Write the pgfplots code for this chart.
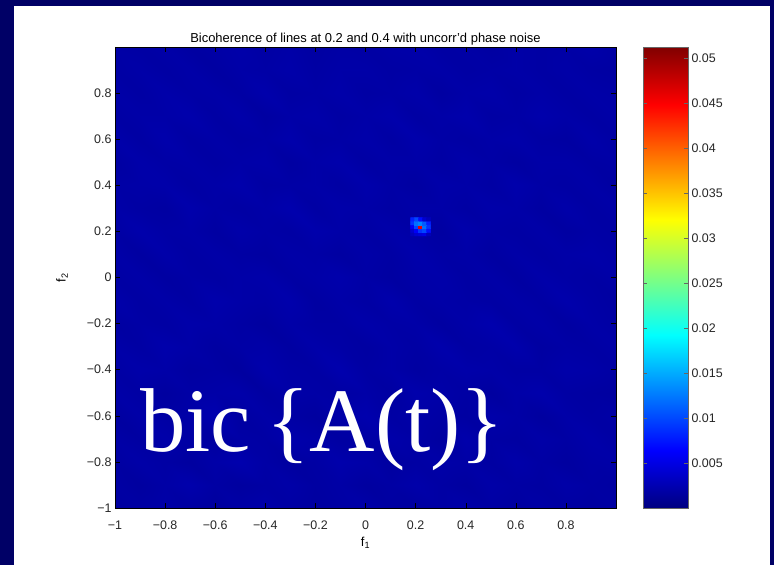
\documentclass[border=0pt]{standalone}
\usepackage{fontspec}
\setmainfont{Liberation Sans}
\newfontfamily\slideserif{Liberation Serif}
\usepackage{pgfplots}
\pgfplotsset{compat=1.18}
\definecolor{slidenavy}{RGB}{0,0,102}

\begin{document}
\begin{tikzpicture}[x=1bp,y=1bp]
% slide background and white panel
\fill[slidenavy] (0,0) rectangle (774,565);
\fill[white] (14,0) rectangle (770,559);

\begin{axis}[
    at={(115bp,57bp)}, anchor=south west,
    scale only axis, width=501bp, height=461bp,
    xmin=-1, xmax=1, ymin=-1, ymax=1,
    enlargelimits=false,
    axis on top,
    colormap/jet,
    point meta min=0, point meta max=0.0513,
    xtick={-1,-0.8,-0.6,-0.4,-0.2,0,0.2,0.4,0.6,0.8},
    xticklabels={−1,−0.8,−0.6,−0.4,−0.2,0,0.2,0.4,0.6,0.8},
    ytick={-1,-0.8,-0.6,-0.4,-0.2,0,0.2,0.4,0.6,0.8},
    yticklabels={−1,−0.8,−0.6,−0.4,−0.2,0,0.2,0.4,0.6,0.8},
    tick align=inside, major tick length=5bp,
    tick style={black, thin},
    axis line style={black, thin},
    tick label style={font=\fontsize{12.5}{14}\selectfont, text=black!85},
    xticklabel style={yshift=-9bp},
    title={Bicoherence of lines at 0.2 and 0.4 with uncorr'd phase noise},
    title style={at={(0.5,1)}, anchor=base, yshift=-1bp, font=\fontsize{13}{15}\selectfont},
    xlabel={f\textsubscript{1}},
    ylabel={f\textsubscript{2}},
    xlabel style={at={(0.5,-0.0759)}, anchor=center, font=\fontsize{13}{15}\selectfont},
    ylabel style={at={(-0.1058,0.5)}, anchor=center, font=\fontsize{13}{15}\selectfont},
    colorbar,
    colorbar/width=45bp,
    colorbar style={
        scale only axis,
        at={(parent axis.north east)}, anchor=north west, xshift=18.5bp,
        xmin=0, xmax=1, xtick=\empty,
        scaled y ticks=false,
        ytick={0.005,0.01,0.015,0.02,0.025,0.03,0.035,0.04,0.045,0.05},
        yticklabels={0.005,0.01,0.015,0.02,0.025,0.03,0.035,0.04,0.045,0.05},
        yticklabel pos=right, ytick pos=both,
        tick align=inside, major tick length=4bp,
        tick style={black!60, thin},
        axis line style={black!60, thin},
        yticklabel style={font=\fontsize{12.5}{14}\selectfont, text=black!85},
    },
]

% background bicoherence (low level noise), grid nodes every 0.1
\addplot[surf, shader=interp, mesh/cols=21, point meta=explicit] coordinates {
(-1,-1)[0.0016] (-0.9,-1)[0.0018] (-0.8,-1)[0.0020] (-0.7,-1)[0.0017] (-0.6,-1)[0.0015] (-0.5,-1)[0.0019] (-0.4,-1)[0.0021] (-0.3,-1)[0.0018] (-0.2,-1)[0.0016] (-0.1,-1)[0.0018] (0,-1)[0.0020]
(0.1,-1)[0.0017] (0.2,-1)[0.0016] (0.3,-1)[0.0018] (0.4,-1)[0.0020] (0.5,-1)[0.0018] (0.6,-1)[0.0016] (0.7,-1)[0.0019] (0.8,-1)[0.0017] (0.9,-1)[0.0016] (1,-1)[0.0018]
(-1,-0.9)[0.0018] (-0.9,-0.9)[0.0016] (-0.8,-0.9)[0.0019] (-0.7,-0.9)[0.0022] (-0.6,-0.9)[0.0018] (-0.5,-0.9)[0.0016] (-0.4,-0.9)[0.0018] (-0.3,-0.9)[0.0020] (-0.2,-0.9)[0.0017] (-0.1,-0.9)[0.0019] (0,-0.9)[0.0016]
(0.1,-0.9)[0.0018] (0.2,-0.9)[0.0021] (0.3,-0.9)[0.0018] (0.4,-0.9)[0.0016] (0.5,-0.9)[0.0020] (0.6,-0.9)[0.0018] (0.7,-0.9)[0.0017] (0.8,-0.9)[0.0020] (0.9,-0.9)[0.0018] (1,-0.9)[0.0017]
(-1,-0.8)[0.0017] (-0.9,-0.8)[0.0020] (-0.8,-0.8)[0.0018] (-0.7,-0.8)[0.0016] (-0.6,-0.8)[0.0020] (-0.5,-0.8)[0.0023] (-0.4,-0.8)[0.0019] (-0.3,-0.8)[0.0016] (-0.2,-0.8)[0.0018] (-0.1,-0.8)[0.0022] (0,-0.8)[0.0020]
(0.1,-0.8)[0.0016] (0.2,-0.8)[0.0018] (0.3,-0.8)[0.0020] (0.4,-0.8)[0.0019] (0.5,-0.8)[0.0017] (0.6,-0.8)[0.0021] (0.7,-0.8)[0.0018] (0.8,-0.8)[0.0016] (0.9,-0.8)[0.0019] (1,-0.8)[0.0020]
(-1,-0.7)[0.0019] (-0.9,-0.7)[0.0017] (-0.8,-0.7)[0.0021] (-0.7,-0.7)[0.0018] (-0.6,-0.7)[0.0016] (-0.5,-0.7)[0.0019] (-0.4,-0.7)[0.0018] (-0.3,-0.7)[0.0022] (-0.2,-0.7)[0.0020] (-0.1,-0.7)[0.0017] (0,-0.7)[0.0018]
(0.1,-0.7)[0.0021] (0.2,-0.7)[0.0019] (0.3,-0.7)[0.0016] (0.4,-0.7)[0.0022] (0.5,-0.7)[0.0018] (0.6,-0.7)[0.0017] (0.7,-0.7)[0.0020] (0.8,-0.7)[0.0018] (0.9,-0.7)[0.0021] (1,-0.7)[0.0018]
(-1,-0.6)[0.0016] (-0.9,-0.6)[0.0020] (-0.8,-0.6)[0.0018] (-0.7,-0.6)[0.0020] (-0.6,-0.6)[0.0024] (-0.5,-0.6)[0.0017] (-0.4,-0.6)[0.0020] (-0.3,-0.6)[0.0018] (-0.2,-0.6)[0.0016] (-0.1,-0.6)[0.0020] (0,-0.6)[0.0023]
(0.1,-0.6)[0.0018] (0.2,-0.6)[0.0020] (0.3,-0.6)[0.0018] (0.4,-0.6)[0.0017] (0.5,-0.6)[0.0021] (0.6,-0.6)[0.0019] (0.7,-0.6)[0.0016] (0.8,-0.6)[0.0020] (0.9,-0.6)[0.0018] (1,-0.6)[0.0019]
(-1,-0.5)[0.0020] (-0.9,-0.5)[0.0018] (-0.8,-0.5)[0.0016] (-0.7,-0.5)[0.0019] (-0.6,-0.5)[0.0020] (-0.5,-0.5)[0.0021] (-0.4,-0.5)[0.0017] (-0.3,-0.5)[0.0020] (-0.2,-0.5)[0.0019] (-0.1,-0.5)[0.0018] (0,-0.5)[0.0020]
(0.1,-0.5)[0.0017] (0.2,-0.5)[0.0022] (0.3,-0.5)[0.0020] (0.4,-0.5)[0.0018] (0.5,-0.5)[0.0016] (0.6,-0.5)[0.0020] (0.7,-0.5)[0.0022] (0.8,-0.5)[0.0018] (0.9,-0.5)[0.0017] (1,-0.5)[0.0016]
(-1,-0.4)[0.0018] (-0.9,-0.4)[0.0021] (-0.8,-0.4)[0.0020] (-0.7,-0.4)[0.0017] (-0.6,-0.4)[0.0018] (-0.5,-0.4)[0.0016] (-0.4,-0.4)[0.0022] (-0.3,-0.4)[0.0019] (-0.2,-0.4)[0.0018] (-0.1,-0.4)[0.0023] (0,-0.4)[0.0018]
(0.1,-0.4)[0.0020] (0.2,-0.4)[0.0017] (0.3,-0.4)[0.0019] (0.4,-0.4)[0.0021] (0.5,-0.4)[0.0020] (0.6,-0.4)[0.0018] (0.7,-0.4)[0.0018] (0.8,-0.4)[0.0021] (0.9,-0.4)[0.0020] (1,-0.4)[0.0018]
(-1,-0.3)[0.0020] (-0.9,-0.3)[0.0018] (-0.8,-0.3)[0.0022] (-0.7,-0.3)[0.0020] (-0.6,-0.3)[0.0017] (-0.5,-0.3)[0.0019] (-0.4,-0.3)[0.0020] (-0.3,-0.3)[0.0017] (-0.2,-0.3)[0.0021] (-0.1,-0.3)[0.0019] (0,-0.3)[0.0017]
(0.1,-0.3)[0.0020] (0.2,-0.3)[0.0018] (0.3,-0.3)[0.0022] (0.4,-0.3)[0.0018] (0.5,-0.3)[0.0019] (0.6,-0.3)[0.0022] (0.7,-0.3)[0.0017] (0.8,-0.3)[0.0019] (0.9,-0.3)[0.0018] (1,-0.3)[0.0020]
(-1,-0.2)[0.0017] (-0.9,-0.2)[0.0019] (-0.8,-0.2)[0.0018] (-0.7,-0.2)[0.0021] (-0.6,-0.2)[0.0020] (-0.5,-0.2)[0.0018] (-0.4,-0.2)[0.0016] (-0.3,-0.2)[0.0020] (-0.2,-0.2)[0.0018] (-0.1,-0.2)[0.0018] (0,-0.2)[0.0021]
(0.1,-0.2)[0.0019] (0.2,-0.2)[0.0020] (0.3,-0.2)[0.0017] (0.4,-0.2)[0.0020] (0.5,-0.2)[0.0023] (0.6,-0.2)[0.0018] (0.7,-0.2)[0.0020] (0.8,-0.2)[0.0017] (0.9,-0.2)[0.0020] (1,-0.2)[0.0018]
(-1,-0.1)[0.0021] (-0.9,-0.1)[0.0018] (-0.8,-0.1)[0.0020] (-0.7,-0.1)[0.0018] (-0.6,-0.1)[0.0022] (-0.5,-0.1)[0.0020] (-0.4,-0.1)[0.0019] (-0.3,-0.1)[0.0022] (-0.2,-0.1)[0.0017] (-0.1,-0.1)[0.0020] (0,-0.1)[0.0018]
(0.1,-0.1)[0.0022] (0.2,-0.1)[0.0018] (0.3,-0.1)[0.0020] (0.4,-0.1)[0.0019] (0.5,-0.1)[0.0018] (0.6,-0.1)[0.0020] (0.7,-0.1)[0.0018] (0.8,-0.1)[0.0022] (0.9,-0.1)[0.0019] (1,-0.1)[0.0017]
(-1,0)[0.0018] (-0.9,0)[0.0020] (-0.8,0)[0.0017] (-0.7,0)[0.0019] (-0.6,0)[0.0018] (-0.5,0)[0.0020] (-0.4,0)[0.0021] (-0.3,0)[0.0018] (-0.2,0)[0.0020] (-0.1,0)[0.0022] (0,0)[0.0019]
(0.1,0)[0.0017] (0.2,0)[0.0020] (0.3,0)[0.0021] (0.4,0)[0.0018] (0.5,0)[0.0020] (0.6,0)[0.0017] (0.7,0)[0.0021] (0.8,0)[0.0019] (0.9,0)[0.0018] (1,0)[0.0020]
(-1,0.1)[0.0020] (-0.9,0.1)[0.0017] (-0.8,0.1)[0.0021] (-0.7,0.1)[0.0018] (-0.6,0.1)[0.0020] (-0.5,0.1)[0.0018] (-0.4,0.1)[0.0017] (-0.3,0.1)[0.0020] (-0.2,0.1)[0.0019] (-0.1,0.1)[0.0017] (0,0.1)[0.0020]
(0.1,0.1)[0.0018] (0.2,0.1)[0.0022] (0.3,0.1)[0.0019] (0.4,0.1)[0.0020] (0.5,0.1)[0.0017] (0.6,0.1)[0.0020] (0.7,0.1)[0.0018] (0.8,0.1)[0.0020] (0.9,0.1)[0.0021] (1,0.1)[0.0019]
(-1,0.2)[0.0018] (-0.9,0.2)[0.0022] (-0.8,0.2)[0.0019] (-0.7,0.2)[0.0020] (-0.6,0.2)[0.0017] (-0.5,0.2)[0.0021] (-0.4,0.2)[0.0019] (-0.3,0.2)[0.0018] (-0.2,0.2)[0.0022] (-0.1,0.2)[0.0020] (0,0.2)[0.0018]
(0.1,0.2)[0.0021] (0.2,0.2)[0.0019] (0.3,0.2)[0.0017] (0.4,0.2)[0.0022] (0.5,0.2)[0.0019] (0.6,0.2)[0.0018] (0.7,0.2)[0.0020] (0.8,0.2)[0.0017] (0.9,0.2)[0.0019] (1,0.2)[0.0018]
(-1,0.3)[0.0020] (-0.9,0.3)[0.0018] (-0.8,0.3)[0.0017] (-0.7,0.3)[0.0022] (-0.6,0.3)[0.0019] (-0.5,0.3)[0.0018] (-0.4,0.3)[0.0020] (-0.3,0.3)[0.0023] (-0.2,0.3)[0.0018] (-0.1,0.3)[0.0021] (0,0.3)[0.0020]
(0.1,0.3)[0.0018] (0.2,0.3)[0.0020] (0.3,0.3)[0.0020] (0.4,0.3)[0.0018] (0.5,0.3)[0.0021] (0.6,0.3)[0.0020] (0.7,0.3)[0.0017] (0.8,0.3)[0.0021] (0.9,0.3)[0.0018] (1,0.3)[0.0020]
(-1,0.4)[0.0019] (-0.9,0.4)[0.0020] (-0.8,0.4)[0.0021] (-0.7,0.4)[0.0018] (-0.6,0.4)[0.0020] (-0.5,0.4)[0.0022] (-0.4,0.4)[0.0018] (-0.3,0.4)[0.0019] (-0.2,0.4)[0.0020] (-0.1,0.4)[0.0018] (0,0.4)[0.0022]
(0.1,0.4)[0.0019] (0.2,0.4)[0.0017] (0.3,0.4)[0.0021] (0.4,0.4)[0.0020] (0.5,0.4)[0.0018] (0.6,0.4)[0.0022] (0.7,0.4)[0.0019] (0.8,0.4)[0.0018] (0.9,0.4)[0.0020] (1,0.4)[0.0017]
(-1,0.5)[0.0017] (-0.9,0.5)[0.0021] (-0.8,0.5)[0.0019] (-0.7,0.5)[0.0020] (-0.6,0.5)[0.0018] (-0.5,0.5)[0.0020] (-0.4,0.5)[0.0021] (-0.3,0.5)[0.0017] (-0.2,0.5)[0.0020] (-0.1,0.5)[0.0022] (0,0.5)[0.0018]
(0.1,0.5)[0.0020] (0.2,0.5)[0.0020] (0.3,0.5)[0.0018] (0.4,0.5)[0.0021] (0.5,0.5)[0.0019] (0.6,0.5)[0.0017] (0.7,0.5)[0.0020] (0.8,0.5)[0.0020] (0.9,0.5)[0.0018] (1,0.5)[0.0019]
(-1,0.6)[0.0021] (-0.9,0.6)[0.0018] (-0.8,0.6)[0.0022] (-0.7,0.6)[0.0018] (-0.6,0.6)[0.0020] (-0.5,0.6)[0.0018] (-0.4,0.6)[0.0019] (-0.3,0.6)[0.0022] (-0.2,0.6)[0.0018] (-0.1,0.6)[0.0019] (0,0.6)[0.0021]
(0.1,0.6)[0.0018] (0.2,0.6)[0.0022] (0.3,0.6)[0.0019] (0.4,0.6)[0.0018] (0.5,0.6)[0.0020] (0.6,0.6)[0.0021] (0.7,0.6)[0.0018] (0.8,0.6)[0.0017] (0.9,0.6)[0.0021] (1,0.6)[0.0018]
(-1,0.7)[0.0018] (-0.9,0.7)[0.0020] (-0.8,0.7)[0.0020] (-0.7,0.7)[0.0022] (-0.6,0.7)[0.0018] (-0.5,0.7)[0.0021] (-0.4,0.7)[0.0017] (-0.3,0.7)[0.0020] (-0.2,0.7)[0.0021] (-0.1,0.7)[0.0018] (0,0.7)[0.0020]
(0.1,0.7)[0.0022] (0.2,0.7)[0.0018] (0.3,0.7)[0.0020] (0.4,0.7)[0.0022] (0.5,0.7)[0.0018] (0.6,0.7)[0.0019] (0.7,0.7)[0.0022] (0.8,0.7)[0.0020] (0.9,0.7)[0.0018] (1,0.7)[0.0020]
(-1,0.8)[0.0020] (-0.9,0.8)[0.0018] (-0.8,0.8)[0.0021] (-0.7,0.8)[0.0019] (-0.6,0.8)[0.0020] (-0.5,0.8)[0.0018] (-0.4,0.8)[0.0022] (-0.3,0.8)[0.0018] (-0.2,0.8)[0.0019] (-0.1,0.8)[0.0021] (0,0.8)[0.0018]
(0.1,0.8)[0.0019] (0.2,0.8)[0.0021] (0.3,0.8)[0.0017] (0.4,0.8)[0.0020] (0.5,0.8)[0.0021] (0.6,0.8)[0.0018] (0.7,0.8)[0.0020] (0.8,0.8)[0.0018] (0.9,0.8)[0.0020] (1,0.8)[0.0019]
(-1,0.9)[0.0018] (-0.9,0.9)[0.0020] (-0.8,0.9)[0.0018] (-0.7,0.9)[0.0020] (-0.6,0.9)[0.0017] (-0.5,0.9)[0.0020] (-0.4,0.9)[0.0019] (-0.3,0.9)[0.0021] (-0.2,0.9)[0.0018] (-0.1,0.9)[0.0020] (0,0.9)[0.0020]
(0.1,0.9)[0.0018] (0.2,0.9)[0.0019] (0.3,0.9)[0.0020] (0.4,0.9)[0.0018] (0.5,0.9)[0.0019] (0.6,0.9)[0.0020] (0.7,0.9)[0.0018] (0.8,0.9)[0.0020] (0.9,0.9)[0.0018] (1,0.9)[0.0017]
(-1,1)[0.0019] (-0.9,1)[0.0018] (-0.8,1)[0.0020] (-0.7,1)[0.0017] (-0.6,1)[0.0019] (-0.5,1)[0.0021] (-0.4,1)[0.0018] (-0.3,1)[0.0020] (-0.2,1)[0.0017] (-0.1,1)[0.0019] (0,1)[0.0018]
(0.1,1)[0.0020] (0.2,1)[0.0021] (0.3,1)[0.0018] (0.4,1)[0.0019] (0.5,1)[0.0017] (0.6,1)[0.0020] (0.7,1)[0.0018] (0.8,1)[0.0019] (0.9,1)[0.0021] (1,1)[0.0018]
};

% the peak near (0.22, 0.22), fine bins
\addplot[matrix plot*, mesh/cols=5, point meta=explicit] coordinates {
(0.188,0.188)[0.0030] (0.204,0.188)[0.0040] (0.220,0.188)[0.0045] (0.236,0.188)[0.0050] (0.252,0.188)[0.0030]
(0.188,0.204)[0.0040] (0.204,0.204)[0.0060] (0.220,0.204)[0.0090] (0.236,0.204)[0.0100] (0.252,0.204)[0.0070]
(0.188,0.220)[0.0060] (0.204,0.220)[0.0100] (0.220,0.220)[0.0460] (0.236,0.220)[0.0120] (0.252,0.220)[0.0090]
(0.188,0.236)[0.0090] (0.204,0.236)[0.0120] (0.220,0.236)[0.0130] (0.236,0.236)[0.0110] (0.252,0.236)[0.0080]
(0.188,0.252)[0.0080] (0.204,0.252)[0.0100] (0.220,0.252)[0.0070] (0.236,0.252)[0.0040] (0.252,0.252)[0.0030]
};
\end{axis}

% slide caption over the plot
\node[anchor=base west, text=white, inner sep=0pt,
      font=\slideserif\fontsize{91}{91}\selectfont] at (140,113) {bic\,\{A(t)\}};
\end{tikzpicture}
\end{document}
